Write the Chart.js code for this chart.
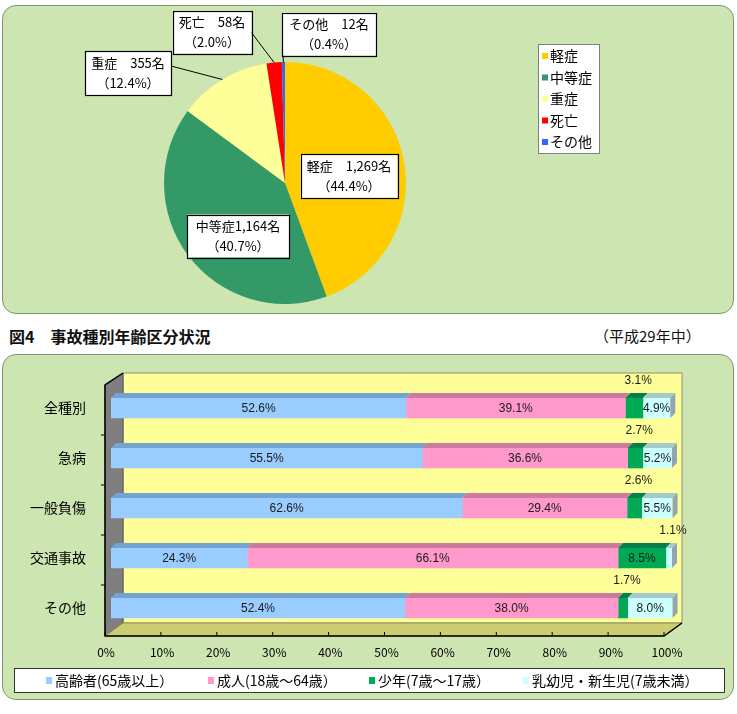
<!DOCTYPE html>
<html><head><meta charset="utf-8">
<script src="https://cdn.jsdelivr.net/npm/chart.js@4/dist/chart.umd.min.js"></script>
<style>
body{margin:0;width:737px;height:714px;background:#fff;position:relative;overflow:hidden;font-family:"Noto Sans CJK JP",sans-serif;}
.panel{position:absolute;background:#CDE6B1;border:1.5px solid #7d9670;border-radius:14px;box-sizing:border-box;}
#p1{left:2px;top:5px;width:732px;height:309px;}
#p2{left:2px;top:354px;width:732px;height:346px;}
#c1{position:absolute;left:0;top:0;}
#c2{position:absolute;left:0;top:354px;}
.title{position:absolute;top:326px;left:9px;font-weight:bold;font-size:16px;line-height:20px;color:#111;}
.year{position:absolute;top:326px;left:594px;font-size:15px;line-height:20px;color:#111;}
</style></head>
<body>
<div class="panel" id="p1"></div>
<div class="panel" id="p2"></div>
<canvas id="c1" width="737" height="320"></canvas>
<div class="title">図4　事故種別年齢区分状況</div>
<div class="year">（平成29年中）</div>
<canvas id="c2" width="737" height="346"></canvas>
<script>
// ---- data: pie ----
const pieLabels = ['軽症','中等症','重症','死亡','その他'];
const pieCounts = [1269, 1164, 355, 58, 12];
const piePercents = ['44.4','40.7','12.4','2.0','0.4'];
const pieNameSep = ['　','','　','　','　'];
const pieColors = ['#FFCC00','#339966','#FFFF99','#FF0000','#3366FF'];

// ---- data: bars ----
const categories = ['全種別','急病','一般負傷','交通事故','その他'];
const elderly = [52.6, 55.5, 62.6, 24.3, 52.4];
const adult   = [39.1, 36.6, 29.4, 66.1, 38.0];
const youth   = [3.1, 2.7, 2.6, 8.5, 1.7];
const infant  = [4.9, 5.2, 5.5, 1.1, 8.0];
const seriesNames = ['高齢者(65歳以上）','成人(18歳～64歳）','少年(7歳～17歳）','乳幼児・新生児(7歳未満）'];
const xTickMin = 0, xTickMax = 100, xTickStep = 10;

const JP = '"Noto Sans CJK JP", sans-serif';
const barColors = ['#99CCFF','#FF99CC','#00AA55','#CCFFFF'];
const barTopColors = ['#73A3D3','#CC7A9E','#00804A','#A2C9CC'];
const barSideColor = '#8FA7B4';

// layout of pie label boxes relative to pie centre (pixels)
const pieBoxLayout = [
  {dx: 64, dy: -7, w: 97, h: 44, leader: null},
  {dx: -47, dy: 53, w: 102, h: 43, leader: null},
  {dx: -157, dy: -110, w: 86, h: 44, leader: [-114, -117]},
  {dx: -73, dy: -151, w: 79, h: 43, leader: [-34, -151]},
  {dx: 44, dy: -149, w: 94, h: 43, leader: [-2, -128]}
];

const pieDeco = {
  id: 'pieDeco',
  afterDraw(chart) {
    const ctx = chart.ctx;
    const meta = chart.getDatasetMeta(0);
    ctx.save();
    meta.data.forEach((arc, i) => {
      const p = arc.getProps(['x','y','startAngle','endAngle','outerRadius'], true);
      const L = pieBoxLayout[i];
      const cx = p.x + L.dx, cy = p.y + L.dy;
      if (L.leader) {
        const mid = (p.startAngle + p.endAngle) / 2;
        ctx.strokeStyle = '#000'; ctx.lineWidth = 1;
        ctx.beginPath();
        ctx.moveTo(p.x + L.leader[0], p.y + L.leader[1]);
        ctx.lineTo(p.x + p.outerRadius * Math.cos(mid), p.y + p.outerRadius * Math.sin(mid));
        ctx.stroke();
      }
      ctx.fillStyle = '#fff';
      ctx.fillRect(cx - L.w/2, cy - L.h/2, L.w, L.h);
      ctx.strokeStyle = '#000'; ctx.lineWidth = 1.2;
      ctx.strokeRect(Math.round(cx - L.w/2)+0.5, Math.round(cy - L.h/2)+0.5, L.w, L.h);
      ctx.fillStyle = '#000';
      ctx.font = '13px ' + JP;
      ctx.textAlign = 'center'; ctx.textBaseline = 'middle';
      ctx.fillText(pieLabels[i] + pieNameSep[i] + pieCounts[i].toLocaleString('en-US') + '名', cx, cy - 10);
      ctx.fillText('（' + piePercents[i] + '%）', cx, cy + 10);
    });
    // legend
    const lx = 538, ly = 44, lw = 61, lh = 109;
    ctx.fillStyle = '#fff'; ctx.fillRect(lx, ly, lw, lh);
    ctx.strokeStyle = '#808080'; ctx.lineWidth = 1;
    ctx.strokeRect(lx + 0.5, ly + 0.5, lw, lh);
    ctx.font = '14px ' + JP; ctx.textAlign = 'left'; ctx.textBaseline = 'middle';
    pieLabels.forEach((lab, i) => {
      const y = ly + 12 + i * 21.5;
      ctx.fillStyle = pieColors[i];
      ctx.fillRect(lx + 4, y - 3, 6, 6);
      ctx.fillStyle = '#000';
      ctx.fillText(lab, lx + 12, y);
    });
    ctx.restore();
  }
};

new Chart(document.getElementById('c1'), {
  type: 'pie',
  data: { labels: pieLabels, datasets: [{ data: pieCounts, backgroundColor: pieColors, borderWidth: 0 }] },
  options: {
    responsive: false, animation: false, devicePixelRatio: 1,
    layout: { padding: { left: 164, top: 62, right: 331, bottom: 16 } },
    plugins: { legend: { display: false }, tooltip: { enabled: false } }
  },
  plugins: [pieDeco]
});

function poly(ctx, pts, fill, stroke) {
  ctx.beginPath();
  ctx.moveTo(pts[0][0], pts[0][1]);
  for (let k = 1; k < pts.length; k++) ctx.lineTo(pts[k][0], pts[k][1]);
  ctx.closePath();
  if (fill) { ctx.fillStyle = fill; ctx.fill(); }
  if (stroke) { ctx.strokeStyle = stroke; ctx.lineWidth = 1; ctx.stroke(); }
}

const threeD = {
  id: 'threeD',
  beforeDatasetsDraw(chart) {
    const ctx = chart.ctx, a = chart.chartArea, x = chart.scales.x, y = chart.scales.y;
    const x0 = x.getPixelForValue(xTickMin), x1 = x.getPixelForValue(xTickMax);
    const fL = x0 - 6, fR = x1 - 8, bL = x0 + 12, bR = x1 + 10;
    const fB = a.bottom + 3, bB = a.bottom - 10, bT = a.top - 10, fT = a.top + 2;
    ctx.save();
    poly(ctx, [[bL,bT],[bR,bT],[bR,bB],[bL,bB]], '#FFFF99', '#8d8d70');
    poly(ctx, [[fL,fT],[bL,bT],[bL,bB],[fL,fB]], '#7f7f7f', '#555');
    poly(ctx, [[fL,fB],[bL,bB],[bR,bB],[fR,fB]], '#CCCC70', '#8d8d60');
    ctx.strokeStyle = '#000'; ctx.lineWidth = 1.5;
    ctx.beginPath();
    ctx.moveTo(bL, bT); ctx.lineTo(fL, fT); ctx.lineTo(fL, fB); ctx.lineTo(fR, fB); ctx.lineTo(bR, bB);
    ctx.stroke();
    ctx.lineWidth = 1;
    ctx.beginPath();
    for (let v = xTickMin; v <= xTickMax; v += xTickStep) {
      const px = x.getPixelForValue(v) - 6 - (v / 100) * 2;
      ctx.moveTo(px, fB); ctx.lineTo(px, fB - 4);
    }
    for (let i = 1; i < categories.length; i++) {
      const py = (y.getPixelForValue(i - 1) + y.getPixelForValue(i)) / 2 + 2;
      ctx.moveTo(fL - 4, py); ctx.lineTo(fL, py);
    }
    ctx.stroke();
    ctx.restore();
  },
  afterDatasetsDraw(chart) {
    const ctx = chart.ctx, d = 5;
    ctx.save();
    const n = chart.data.datasets.length;
    chart.data.datasets.forEach((ds, di) => {
      const meta = chart.getDatasetMeta(di);
      meta.data.forEach((bar) => {
        const p = bar.getProps(['x','y','base','height'], true);
        const top = p.y - p.height / 2, bot = p.y + p.height / 2;
        poly(ctx, [[p.base, top],[p.base + d, top - d],[p.x + d, top - d],[p.x, top]], barTopColors[di]);
        if (di === n - 1) {
          poly(ctx, [[p.x, top],[p.x + d, top - d],[p.x + d, bot - d],[p.x, bot]], barSideColor);
        }
      });
    });
    ctx.font = '12px "Liberation Sans", Arial, sans-serif';
    ctx.fillStyle = '#1a1a1a';
    ctx.textAlign = 'center'; ctx.textBaseline = 'middle';
    chart.data.datasets.forEach((ds, di) => {
      const meta = chart.getDatasetMeta(di);
      meta.data.forEach((bar, i) => {
        const v = ds.data[i];
        const p = bar.getProps(['x','y','base','height'], true);
        const cx = (p.x + p.base) / 2;
        const txt = v.toFixed(1) + '%';
        if (v >= 4) ctx.fillText(txt, cx, p.y + 1);
        else ctx.fillText(txt, cx + 4, p.y - p.height / 2 - 17);
      });
    });
    ctx.restore();
  },
  afterDraw(chart) {
    const ctx = chart.ctx;
    ctx.save();
    const bx = 14, by = 314, bw = 710, bh = 24;
    ctx.fillStyle = '#fff'; ctx.fillRect(bx, by, bw, bh);
    ctx.strokeStyle = '#333'; ctx.lineWidth = 1;
    ctx.strokeRect(bx + 0.5, by + 0.5, bw, bh);
    const starts = [46, 208, 369, 523];
    ctx.font = '14px ' + JP; ctx.textAlign = 'left'; ctx.textBaseline = 'middle';
    seriesNames.forEach((nm, i) => {
      ctx.fillStyle = barColors[i];
      ctx.fillRect(starts[i], by + 9, 6, 7);
      ctx.fillStyle = '#000';
      ctx.fillText(nm, starts[i] + 9, by + 12.5);
    });
    ctx.restore();
  }
};

const mk = (i, arr) => ({ label: seriesNames[i], data: arr, backgroundColor: barColors[i], borderWidth: 0, barThickness: 20 });

new Chart(document.getElementById('c2'), {
  type: 'bar',
  data: { labels: categories, datasets: [mk(0, elderly), mk(1, adult), mk(2, youth), mk(3, infant)] },
  options: {
    indexAxis: 'y', responsive: false, animation: false, devicePixelRatio: 1,
    layout: { padding: { top: 29, right: 65, left: 0, bottom: 37 } },
    plugins: { legend: { display: false }, tooltip: { enabled: false } },
    scales: {
      x: {
        stacked: true, min: xTickMin, max: xTickMax,
        grid: { display: false }, border: { display: false },
        ticks: { stepSize: xTickStep, callback: v => v + '%', font: { family: JP, size: 12 }, color: '#000', padding: 4, labelOffset: -5, maxRotation: 0 },
        afterFit: s => { s.height = 30; }
      },
      y: {
        stacked: true,
        grid: { display: false }, border: { display: false },
        ticks: { font: { family: JP, size: 14 }, color: '#000', padding: 17 },
        afterFit: s => { s.width = 111; }
      }
    }
  },
  plugins: [threeD]
});
</script>
</body></html>
